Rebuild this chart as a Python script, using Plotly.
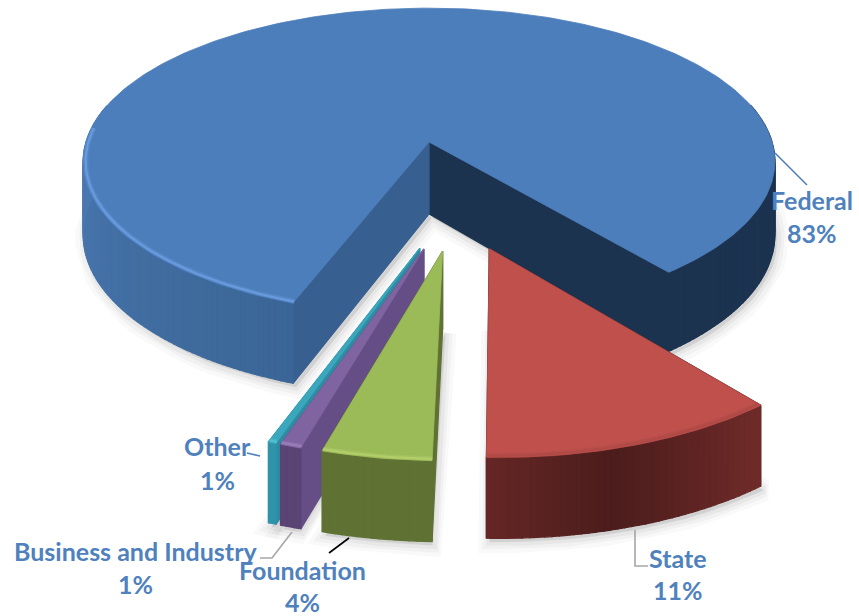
"""3D exploded pie chart of funding sources, drawn as projected polygons."""
import numpy as np
import plotly.graph_objects as go

# chart values (shares, labels as printed)
categories = ['Federal', 'State', 'Foundation', 'Business and Industry', 'Other']
shares = [83.5, 11.3, 4.1, 0.8, 0.3]
pct_labels = ['83%', '11%', '4%', '1%', '1%']

START_ANGLE = 200.4  # first slice start, clockwise from the back of the pie
EXPLODE = 0.335
SMALL_SHIFT = 0.035  # the three thin slices sit a little further right

# projection of the pie plane on to the page
CX, CY = 429, 142
AX, BY, PERSP = 343, 151, 0.128

top_colors = ['#4c7ebb', '#bf504c', '#9bbb59', '#8064a2', '#3ba7bd']
cut_colors = [('#1c3350', '#375f8f'), ('#5a2120', '#5a2120'), ('#5f7233', '#5f7233'),
               ('#654e85', '#654e85'), ('#2d8ca3', '#2d8ca3')]
rim_colors = ['#6a9ce0', '#b04a47', '#b3d06c', '#9a7fbc', '#55c0d6']


def project(u, v, down=False):
    s = 1 / (1 - PERSP * v)
    x = CX + AX * u * s
    y = CY + BY * v * s
    if down:
        y = y + 72 + 9 * np.clip(v, 0, 1)
    return x, y


def mix(c1, c2, t):
    a = np.array([int(c1[i:i + 2], 16) for i in (1, 3, 5)])
    b = np.array([int(c2[i:i + 2], 16) for i in (1, 3, 5)])
    r = (a + (b - a) * t).round().astype(int)
    return f'rgb({r[0]},{r[1]},{r[2]})'


def wall_color(idx, ang):
    # side wall shading follows the angle round the rim
    ang = ang % 360
    if idx == 0:
        if ang < 180:
            return '#1c3350'
        return mix('#3a6596', '#4a78b0', min((ang - 200) / 70, 1))
    if idx == 1:
        t = abs(ang - 165) / 22
        return mix('#4b1d1c', '#6d2a28', min(t, 1))
    return {2: '#5f7233', 3: '#5a4474', 4: '#2f93aa'}[idx]


def add_poly(fig, xs, ys, color, width=1.2):
    fig.add_trace(go.Scatter(
        x=list(xs) + [xs[0]], y=list(ys) + [ys[0]],
        mode='lines', fill='toself', fillcolor=color,
        line=dict(color=color, width=width),
        hoverinfo='skip', showlegend=False
    ))


fig = go.Figure()

# slice angles from shares
spans = [s / sum(shares) * 360 for s in shares]
starts = START_ANGLE + np.cumsum([0] + spans[:-1])

geo = []
for i in range(len(shares)):
    a0, a1 = starts[i], starts[i] + spans[i]
    mid = np.radians((a0 + a1) / 2)
    ou, ov = EXPLODE * np.sin(mid), -EXPLODE * np.cos(mid)
    if i == 0:
        ou, ov = 0, 0  # page centre is tied to the big slice
    else:
        m0 = np.radians(starts[0] + spans[0] / 2)
        ou, ov = ou - EXPLODE * np.sin(m0), ov + EXPLODE * np.cos(m0)
    if i >= 2:
        ou += SMALL_SHIFT
    geo.append((a0, a1, ou, ov))

# soft shadows under the pieces
for a0, a1, ou, ov in geo:
    ang = np.radians(np.linspace(a0, a1, 80))
    us = np.r_[ou, ou + np.sin(ang)]
    vs = np.r_[ov, ov - np.cos(ang)]
    px_, py_ = project(us, vs, down=True)
    for w, op in ((22, 0.025), (14, 0.03), (7, 0.04)):
        fig.add_trace(go.Scatter(
            x=list(px_ + 3) + [px_[0] + 3], y=list(py_ + 4) + [py_[0] + 4],
            mode='lines', fill='toself', fillcolor=f'rgba(0,0,0,{op})',
            line=dict(color=f'rgba(0,0,0,{op})', width=w),
            hoverinfo='skip', showlegend=False
        ))

# back to front: federal, other, business, foundation, state
for i in [0, 4, 3, 2, 1]:
    a0, a1, ou, ov = geo[i]
    # flat cut walls
    for edge, col in ((a1, cut_colors[i][0]), (a0, cut_colors[i][1])):
        eu, ev = ou + np.sin(np.radians(edge)), ov - np.cos(np.radians(edge))
        x1, y1 = project(ou, ov)
        x2, y2 = project(eu, ev)
        x3, y3 = project(eu, ev, down=True)
        x4, y4 = project(ou, ov, down=True)
        add_poly(fig, [x1, x2, x3, x4], [y1, y2, y3, y4], col)
    # rim wall, one small quad per step so that it can be shaded
    steps = np.arange(a0, a1, 1.0).tolist() + [a1]
    for s0, s1 in zip(steps[:-1], steps[1:]):
        if np.cos(np.radians((s0 + s1) / 2)) > 0.25:
            continue
        u0, v0 = ou + np.sin(np.radians(s0)), ov - np.cos(np.radians(s0))
        u1, v1 = ou + np.sin(np.radians(s1)), ov - np.cos(np.radians(s1))
        x1, y1 = project(u0, v0)
        x2, y2 = project(u1, v1)
        x3, y3 = project(u1, v1, down=True)
        x4, y4 = project(u0, v0, down=True)
        add_poly(fig, [x1, x2, x3, x4], [y1, y2, y3, y4], wall_color(i, (s0 + s1) / 2))
    # top face
    ang = np.radians(np.arange(a0, a1, 1.0).tolist() + [a1])
    us = np.r_[ou, ou + np.sin(ang)]
    vs = np.r_[ov, ov - np.cos(ang)]
    tx, ty = project(us, vs)
    add_poly(fig, tx, ty, top_colors[i], width=0.8)
    # light bevel along the front of the rim
    front = [a for a in np.degrees(ang) if np.cos(np.radians(a)) < 0.1 and (a % 360) > 100 and not (i == 0 and (a % 360) < 180)]
    if front:
        fr = np.radians(front)
        rx, ry = project(ou + 0.993 * np.sin(fr), ov - 0.993 * np.cos(fr))
        for w, op in ((5, 0.35), (2.2, 0.9)):
            fig.add_trace(go.Scatter(
                x=rx, y=ry, mode='lines', opacity=op, line=dict(color=rim_colors[i], width=w),
                hoverinfo='skip', showlegend=False
            ))

# leader lines
leaders = [
    ([775, 807], [153, 185], '#4f81bd'),
    ([635, 635, 648], [530, 566, 566], '#a6a6a6'),
    ([329, 349], [553, 538], '#000000'),
    ([260, 272, 292], [558, 558, 532], '#a6a6a6'),
    ([247, 260], [453, 456], '#4f81bd'),
]
for lx, ly, col in leaders:
    fig.add_trace(go.Scatter(x=lx, y=ly, mode='lines', line=dict(color=col, width=1.6),
                             hoverinfo='skip', showlegend=False))

# labels: name and share on separate lines
label_pos = {
    'Federal': (812, 200, 233),
    'State': (678, 558, 590),
    'Foundation': (302, 570, 602),
    'Business and Industry': (135, 551, 584),
    'Other': (217, 446, 480),
}
for name, pct in zip(categories, pct_labels):
    lx, y1, y2 = label_pos[name]
    for txt, ty_ in ((name, y1), (pct, y2)):
        fig.add_annotation(x=lx, y=ty_, text=f'<b>{txt}</b>', showarrow=False,
                           font=dict(family='Lato', size=25, color='#4f81bd'))

fig.update_layout(
    width=859, height=616,
    margin=dict(l=0, r=0, t=0, b=0),
    plot_bgcolor='white', paper_bgcolor='white',
    xaxis=dict(range=[0, 859], visible=False, fixedrange=True),
    yaxis=dict(range=[616, 0], visible=False, fixedrange=True),
    showlegend=False
)

fig.write_html("out.html", config=dict(displayModeBar=False),
               post_script="document.body.style.margin='0';document.body.style.overflow='hidden';")
